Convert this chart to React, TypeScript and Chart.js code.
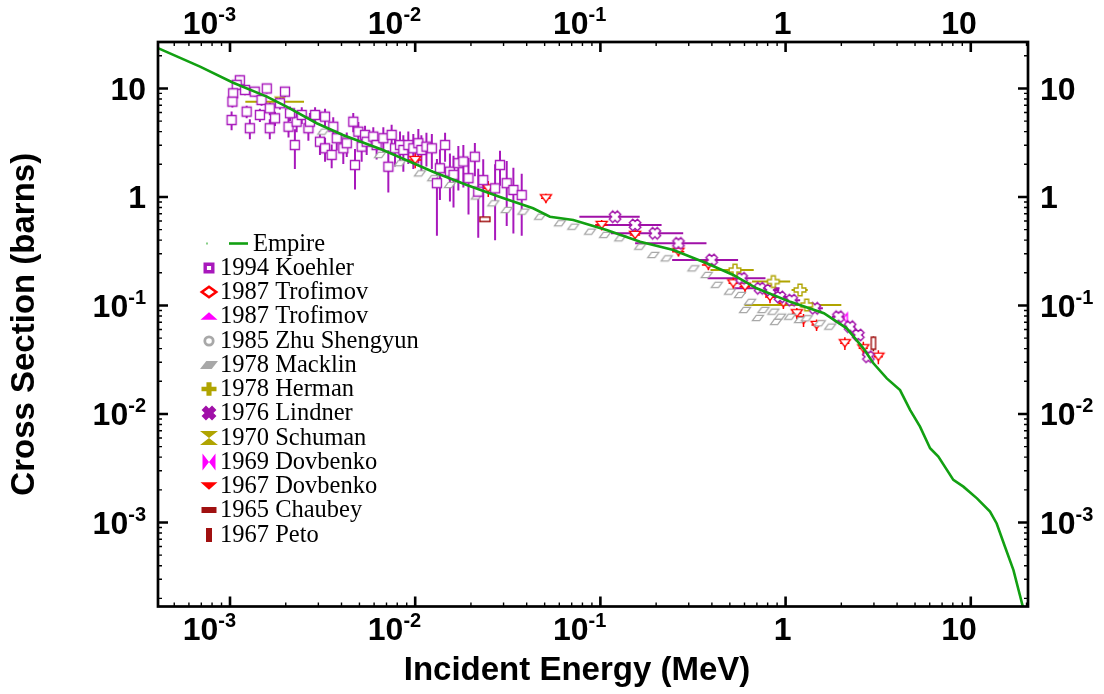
import React, { useEffect, useRef } from 'react';
import { Chart, registerables } from 'chart.js';

Chart.register(...registerables);

// ---------------- data ----------------
const X_MIN = 4.085e-4;
const X_MAX = 20.37;
const Y_MIN = 1.682e-4;
const Y_MAX = 26.8;

const xTickValues = [1e-3, 1e-2, 1e-1, 1, 10];
const xTickLabels = ['10^-3', '10^-2', '10^-1', '1', '10'];
const yTickValues = [1e-3, 1e-2, 1e-1, 1, 10];
const yTickLabels = ['10^-3', '10^-2', '10^-1', '1', '10'];

const xTitle = 'Incident Energy (MeV)';
const yTitle = 'Cross Section (barns)';

const legendLabels = [
  'Empire',
  '1994 Koehler',
  '1987 Trofimov',
  '1987 Trofimov',
  '1985 Zhu Shengyun',
  '1978 Macklin',
  '1978 Herman',
  '1976 Lindner',
  '1970 Schuman',
  '1969 Dovbenko',
  '1967 Dovbenko',
  '1965 Chaubey',
  '1967 Peto',
];

const empireE = [4.0e-4, 6.89e-4, 1.04e-3, 1.58e-3, 2.02e-3, 2.94e-3, 4.07e-3, 6.7e-3, 1.247e-2, 1.9e-2,
  2.87e-2, 4.33e-2, 5.34e-2, 7.14e-2, 0.108, 0.164, 0.248, 0.375, 0.522, 0.698,
  1.06, 1.61, 2.14, 2.63, 2.98, 3.52, 4.15, 4.7, 5.32, 6.03,
  6.68, 8.05, 9.12, 10.8, 12.7, 13.8, 15.3, 17.0, 19.1, 20.5];
const empireXS = [23.9, 15.9, 11.3, 8.4, 6.8, 4.78, 3.73, 2.71, 1.71, 1.29,
  1.0, 0.787, 0.658, 0.614, 0.497, 0.387, 0.325, 0.245, 0.191, 0.144,
  0.108, 0.0848, 0.0616, 0.0403, 0.0293, 0.0213, 0.0166, 0.0109, 0.00765, 0.00483,
  0.00405, 0.00247, 0.00214, 0.00167, 0.00126, 0.00098, 0.000597, 0.000364, 0.000168, 0.000128];

const koehlerE = [1.13e-3, 1.087e-3, 1.04e-3, 1.03e-3, 1.02e-3, 1.205e-3, 1.23e-3, 1.28e-3, 1.36e-3, 1.45e-3,
  1.48e-3, 1.58e-3, 1.64e-3, 1.64e-3, 1.75e-3, 1.86e-3, 1.98e-3, 2.07e-3, 2.24e-3, 2.29e-3,
  2.11e-3, 2.44e-3, 2.65e-3, 2.70e-3, 2.88e-3, 3.06e-3, 3.26e-3, 3.26e-3, 3.54e-3, 3.61e-3,
  3.77e-3, 4.09e-3, 4.27e-3, 4.63e-3, 4.73e-3, 4.93e-3, 5.14e-3, 5.36e-3, 5.47e-3, 5.94e-3,
  6.19e-3, 6.73e-3, 7.16e-3, 7.46e-3, 7.78e-3, 8.28e-3, 8.63e-3, 9.18e-3, 9.77e-3, 1.04e-2,
  1.08e-2, 1.15e-2, 1.23e-2, 1.31e-2, 1.36e-2, 1.45e-2, 1.54e-2, 1.61e-2, 1.71e-2, 1.82e-2,
  1.94e-2, 2.10e-2, 2.19e-2, 2.33e-2, 2.70e-2, 2.87e-2, 3.12e-2, 3.39e-2, 3.76e-2];
const koehlerXS = [11.9, 10.8, 9.03, 7.56, 5.12, 9.68, 6.11, 4.30, 9.34, 5.70,
  7.83, 10.0, 6.57, 4.30, 5.31, 7.31, 9.34, 4.44, 3.01, 4.94,
  5.91, 5.70, 4.30, 4.94, 5.70, 3.23, 5.50, 2.81, 2.44, 4.44,
  3.48, 2.81, 3.13, 4.94, 1.97, 4.00, 2.91, 3.73, 3.23, 3.60,
  3.01, 3.48, 1.90, 3.73, 2.81, 3.01, 2.71, 3.01, 2.81, 3.13,
  2.71, 2.91, 2.81, 1.34, 1.84, 3.01, 1.71, 1.60, 2.05, 2.12,
  1.49, 2.35, 1.12, 1.43, 1.20, 1.97, 1.34, 1.16, 1.04];
const koehlerErr = [1.2, 1.0, 1.1, 0.9, 1.0, 1.0, 0.8, 0.9, 0.9, 0.8,
  0.9, 1.0, 0.9, 0.9, 0.8, 0.9, 1.0, 0.9, 1.2, 1.0,
  0.9, 1.0, 1.0, 1.0, 1.0, 0.8, 1.0, 0.7, 0.6, 1.0,
  0.8, 0.8, 0.8, 1.0, 0.8, 0.9, 0.8, 0.8, 0.8, 0.8,
  0.8, 0.9, 0.8, 0.9, 0.9, 1.0, 1.0, 1.0, 1.0, 1.1,
  1.0, 1.0, 1.0, 0.9, 0.9, 0.9, 0.8, 0.8, 0.9, 0.9,
  0.8, 0.8, 0.7, 0.8, 0.8, 0.7, 0.8, 0.7, 0.6];

const trofimovAE: number[] = [];
const trofimovAXS: number[] = [];
const trofimovBE: number[] = [];
const trofimovBXS: number[] = [];
const zhuE: number[] = [];
const zhuXS: number[] = [];

const macklinE = [3.19e-3, 4.09e-3, 6.46e-3, 8.28e-3, 1.06e-2, 1.25e-2, 1.54e-2, 2.15e-2, 2.64e-2, 3.12e-2,
  3.84e-2, 4.72e-2, 6.05e-2, 7.14e-2, 8.79e-2, 0.106, 0.128, 0.164, 0.193, 0.228,
  0.318, 0.375, 0.425, 0.501, 0.567, 0.643, 0.759, 0.859, 0.933, 1.057,
  1.197, 1.30, 1.53, 1.74, 0.604, 0.709, 0.887];
const macklinXS = [4.0, 3.35, 2.44, 2.05, 1.65, 1.49, 1.29, 1.01, 0.875, 0.759,
  0.732, 0.658, 0.573, 0.532, 0.479, 0.447, 0.416, 0.348, 0.292, 0.272,
  0.220, 0.191, 0.155, 0.134, 0.125, 0.108, 0.0909, 0.0877, 0.0788, 0.0788,
  0.0735, 0.0762, 0.0686, 0.0638, 0.0909, 0.0767, 0.0706];

const hermanE = [0.533, 0.859, 1.197, 1.30];
const hermanXS = [0.212, 0.166, 0.139, 0.101];
const hermanErrE = [0.14, 0.2, 0.12, 0.7];

const lindnerE = [0.120, 0.154, 0.197, 0.264, 0.399, 0.579, 0.728, 0.824, 0.933, 1.079, 1.44, 1.93, 2.23, 2.47, 2.80];
const lindnerXS = [0.658, 0.552, 0.463, 0.374, 0.263, 0.178, 0.144, 0.139, 0.120, 0.112, 0.0942, 0.0788, 0.0638, 0.0535, 0.0337];
const lindnerErrE = [0.043, 0.06, 0.083, 0.11, 0.155, 0.2, 0.2, 0.1, 0.1, 0.12, 0.15, 0.15, 0.15, 0.15, 0.15];

const schumanE = [1.86e-3];
const schumanXS = [7.56];
const schumanErrE = [0.65e-3];

const dovb69E = [2.05];
const dovb69XS = [0.0762];

const dovb67E = [0.01, 0.0248, 0.0508, 0.1016, 0.154, 0.264, 0.383, 0.522, 0.604, 0.824, 0.973, 1.15, 1.25, 1.47, 2.09, 2.63, 3.17];
const dovb67XS = [2.19, 1.20, 0.973, 0.552, 0.447, 0.313, 0.236, 0.160, 0.149, 0.120, 0.105, 0.0848, 0.0735, 0.0661, 0.0449, 0.0403, 0.0337];
const dovb67Err = [0.35, 0.2, 0.1, 0.06, 0.05, 0.03, 0.025, 0.02, 0.02, 0.015, 0.012, 0.01, 0.01, 0.008, 0.006, 0.006, 0.005];
const dovb67ErrE = [0.0008, 0.002, 0.003, 0.008, 0.01, 0.02, 0.03, 0.03, 0.04, 0.05, 0.06, 0.07, 0.07, 0.09, 0.12, 0.15, 0.18];

const chaubeyE = [0.0238];
const chaubeyXS = [0.623];
const chaubeyErr = [0.03];

const petoE = [2.98];
const petoXS = [0.0449];
const petoErr = [0.007];

// ---------------- styles ----------------
const C_GREEN = '#12a012';
const C_PURPLE = '#a818bc';
const C_LINDNER = '#a010a8';
const C_RED = '#ff0000';
const C_MAGENTA = '#ff00ff';
const C_GRAY = '#a8a8a8';
const C_OLIVE = '#b0a400';
const C_DARKRED = '#a01010';

const SANS = '"Liberation Sans", Arial, Helvetica, sans-serif';
const SERIF = '"Liberation Serif", "Times New Roman", serif';
const TICK_FS = 32;
const SUP_FS = 20;
const SUP_RAISE = 13;
const TITLE_FS = 33;

type Shape = 'square' | 'diamond' | 'triUp' | 'circle' | 'para' | 'plus' | 'quatre' | 'hourglass' | 'bowtie' | 'triDown' | 'rect';

function shapePath(ctx: CanvasRenderingContext2D, shape: Shape, hw: number, hh: number) {
  const poly = (pts: number[][]) => {
    ctx.moveTo(pts[0][0], pts[0][1]);
    for (let i = 1; i < pts.length; i++) ctx.lineTo(pts[i][0], pts[i][1]);
    ctx.closePath();
  };
  switch (shape) {
    case 'square':
    case 'rect':
      ctx.rect(-hw, -hh, 2 * hw, 2 * hh);
      break;
    case 'diamond':
      poly([[0, -hh], [hw, 0], [0, hh], [-hw, 0]]);
      break;
    case 'triUp':
      poly([[0, -hh], [hw, hh], [-hw, hh]]);
      break;
    case 'triDown':
      poly([[-hw, -hh], [hw, -hh], [0, hh]]);
      break;
    case 'circle':
      ctx.arc(0, 0, hw, 0, Math.PI * 2);
      break;
    case 'para': {
      const s = hw * 0.7;
      poly([[-hw + s, -hh], [hw, -hh], [hw - s, hh], [-hw, hh]]);
      break;
    }
    case 'plus': {
      const a = hw * 0.34;
      const b = hh * 0.34;
      poly([[-a, -hh], [a, -hh], [a, -b], [hw, -b], [hw, b], [a, b], [a, hh], [-a, hh], [-a, b], [-hw, b], [-hw, -b], [-a, -b]]);
      break;
    }
    case 'quatre': {
      const h = hw;
      const a = h * 0.42;
      const base = [[-a, -h], [a, -h], [a, -a], [h, -a], [h, a], [a, a], [a, h], [-a, h], [-a, a], [-h, a], [-h, -a], [-a, -a]];
      const c = Math.cos(Math.PI / 4);
      const s = Math.sin(Math.PI / 4);
      const k = 0.95;
      poly(base.map(([x, y]) => [k * (x * c - y * s), k * (x * s + y * c)]));
      break;
    }
    case 'hourglass':
      poly([[-hw, -hh], [hw, -hh], [-hw, hh], [hw, hh]]);
      break;
    case 'bowtie':
      poly([[-hw, -hh], [-hw, hh], [hw, -hh], [hw, hh]]);
      break;
  }
}

function makeIcon(shape: Shape, color: string, hw: number, hh: number, lw: number, filled: boolean, whiteFill: boolean): HTMLCanvasElement {
  const pad = Math.ceil(lw) + 2;
  let w = Math.ceil(2 * hw + 2 * pad);
  let h = Math.ceil(2 * hh + 2 * pad);
  if (w % 2) w++;
  if (h % 2) h++;
  const c = document.createElement('canvas');
  c.width = w;
  c.height = h;
  const ctx = c.getContext('2d')!;
  ctx.translate(w / 2, h / 2);
  ctx.beginPath();
  shapePath(ctx, shape, hw, hh);
  if (filled) {
    ctx.fillStyle = color;
    ctx.fill();
  } else {
    if (whiteFill) {
      ctx.fillStyle = '#ffffff';
      ctx.fill();
    }
    ctx.strokeStyle = color;
    ctx.lineWidth = lw;
    ctx.lineJoin = 'miter';
    ctx.stroke();
  }
  return c;
}

function pts(xs: number[], ys: number[]) {
  return xs.map((x, i) => ({ x, y: ys[i] }));
}

function drawSupLabel(ctx: CanvasRenderingContext2D, label: string, x: number, y: number, align: 'left' | 'right') {
  const parts = label.split('^');
  const base = parts[0];
  const exp = parts[1];
  const fBase = `bold ${TICK_FS}px ${SANS}`;
  const fSup = `bold ${SUP_FS}px ${SANS}`;
  ctx.font = fBase;
  const wb = ctx.measureText(base).width;
  let we = 0;
  if (exp) {
    ctx.font = fSup;
    we = ctx.measureText(exp).width;
  }
  const x0 = align === 'right' ? x - wb - we : x;
  ctx.textAlign = 'left';
  ctx.textBaseline = 'alphabetic';
  ctx.fillStyle = '#000';
  ctx.font = fBase;
  ctx.fillText(base, x0, y);
  if (exp) {
    ctx.font = fSup;
    ctx.fillText(exp, x0 + wb, y - SUP_RAISE);
  }
}

const errorBarPlugin = {
  id: 'errorBars',
  beforeDatasetsDraw(chart: any) {
    const { ctx, chartArea, scales } = chart;
    const xs = scales.x;
    const ys = scales.y;
    ctx.save();
    ctx.beginPath();
    ctx.rect(chartArea.left, chartArea.top, chartArea.right - chartArea.left, chartArea.bottom - chartArea.top);
    ctx.clip();
    chart.data.datasets.forEach((ds: any) => {
      if (!ds.errY && !ds.errX) return;
      ctx.beginPath();
      ctx.strokeStyle = ds.errColor;
      ctx.lineWidth = ds.errWidth || 1.6;
      ds.data.forEach((p: any, i: number) => {
        const px = xs.getPixelForValue(p.x);
        const py = ys.getPixelForValue(p.y);
        if (ds.errY) {
          const e = ds.errY[i];
          const lo = Math.max(p.y - e, Y_MIN * 0.5);
          ctx.moveTo(px, ys.getPixelForValue(p.y + e));
          ctx.lineTo(px, ys.getPixelForValue(lo));
        }
        if (ds.errX) {
          const e = ds.errX[i];
          const lo = Math.max(p.x - e, X_MIN * 0.5);
          ctx.moveTo(xs.getPixelForValue(lo), py);
          ctx.lineTo(xs.getPixelForValue(p.x + e), py);
        }
      });
      ctx.stroke();
    });
    ctx.restore();
  },
};

const isDecade = (v: number) => Math.abs(Math.log10(v) - Math.round(Math.log10(v))) < 1e-9;

const framePlugin = {
  id: 'frameAndTicks',
  afterDraw(chart: any) {
    const { ctx, chartArea, scales } = chart;
    const { left, right, top, bottom } = chartArea;
    const xs = scales.x;
    const ys = scales.y;
    ctx.save();
    ctx.strokeStyle = '#000';
    // minor ticks
    ctx.lineWidth = 1.4;
    ctx.beginPath();
    for (let d = -5; d <= 2; d++) {
      for (let m = 2; m <= 9; m++) {
        const v = m * Math.pow(10, d);
        if (v > X_MIN && v < X_MAX) {
          const px = xs.getPixelForValue(v);
          ctx.moveTo(px, bottom);
          ctx.lineTo(px, bottom - 4);
          ctx.moveTo(px, top);
          ctx.lineTo(px, top + 4);
        }
        if (v > Y_MIN && v < Y_MAX) {
          const py = ys.getPixelForValue(v);
          ctx.moveTo(left, py);
          ctx.lineTo(left + 4, py);
          ctx.moveTo(right, py);
          ctx.lineTo(right - 4, py);
        }
      }
    }
    ctx.stroke();
    // major ticks
    ctx.lineWidth = 2.6;
    ctx.beginPath();
    xTickValues.forEach((v) => {
      if (!isDecade(v)) return;
      const px = xs.getPixelForValue(v);
      ctx.moveTo(px, bottom);
      ctx.lineTo(px, bottom - 10);
      ctx.moveTo(px, top);
      ctx.lineTo(px, top + 10);
    });
    yTickValues.forEach((v) => {
      const py = ys.getPixelForValue(v);
      ctx.moveTo(left, py);
      ctx.lineTo(left + 10, py);
      ctx.moveTo(right, py);
      ctx.lineTo(right - 10, py);
    });
    ctx.stroke();
    // frame
    ctx.lineWidth = 2.7;
    ctx.strokeRect(left, top, right - left, bottom - top);

    // tick labels
    xTickValues.forEach((v, i) => {
      const px = xs.getPixelForValue(v);
      drawSupLabel(ctx, xTickLabels[i], px + 6, bottom + 33, 'right');
      drawSupLabel(ctx, xTickLabels[i], px + 6, top - 8, 'right');
    });
    yTickValues.forEach((v, i) => {
      const py = ys.getPixelForValue(v);
      drawSupLabel(ctx, yTickLabels[i], left - 12, py + 11.5, 'right');
      drawSupLabel(ctx, yTickLabels[i], right + 12, py + 11.5, 'left');
    });

    // axis titles
    ctx.fillStyle = '#000';
    ctx.font = `bold ${TITLE_FS}px ${SANS}`;
    ctx.textAlign = 'center';
    ctx.textBaseline = 'alphabetic';
    ctx.fillText(xTitle, (left + right) / 2 - 16, 680);
    ctx.save();
    ctx.translate(34, (top + bottom) / 2);
    ctx.rotate(-Math.PI / 2);
    ctx.fillText(yTitle, 0, 0);
    ctx.restore();
    ctx.restore();
  },
};

export default function App() {
  const ref = useRef<HTMLCanvasElement>(null);

  useEffect(() => {
    const canvas = ref.current;
    if (!canvas) return;

    const legendIcons: (HTMLCanvasElement | null)[] = [
      null,
      makeIcon('square', C_PURPLE, 3.8, 3.8, 3.4, false, true),
      makeIcon('diamond', C_RED, 7.2, 5.2, 2.6, false, true),
      makeIcon('triUp', C_MAGENTA, 8.5, 3.8, 1, true, false),
      makeIcon('circle', C_GRAY, 4.2, 4.2, 2.8, false, true),
      makeIcon('para', C_GRAY, 9, 4, 1, true, false),
      makeIcon('plus', C_OLIVE, 7.5, 6.8, 1, true, false),
      makeIcon('quatre', C_LINDNER, 7.8, 7.8, 1, true, false),
      makeIcon('hourglass', C_OLIVE, 9, 7, 1, true, false),
      makeIcon('bowtie', C_MAGENTA, 6.5, 8.5, 1, true, false),
      makeIcon('triDown', C_RED, 8.5, 3.8, 1, true, false),
      makeIcon('rect', C_DARKRED, 7.5, 3, 1, true, false),
      makeIcon('rect', C_DARKRED, 3, 7, 1, true, false),
    ];

    const legendPlugin = {
      id: 'customLegend',
      afterDraw(chart: any) {
        const { ctx, chartArea } = chart;
        const x0 = chartArea.left;
        ctx.save();
        ctx.font = `24.5px ${SERIF}`;
        ctx.fillStyle = '#000';
        ctx.textAlign = 'left';
        ctx.textBaseline = 'alphabetic';
        legendLabels.forEach((lab, i) => {
          const base = 250.5 + i * 24.25;
          const cy = base - 7;
          if (i === 0) {
            ctx.fillStyle = C_GREEN;
            ctx.fillRect(x0 + 48.5, cy - 1, 1, 2);
            ctx.strokeStyle = C_GREEN;
            ctx.lineWidth = 2.6;
            ctx.beginPath();
            ctx.moveTo(x0 + 71, cy);
            ctx.lineTo(x0 + 90, cy);
            ctx.stroke();
            ctx.fillStyle = '#000';
            ctx.fillText(lab, x0 + 95, base);
          } else {
            const ic = legendIcons[i]!;
            ctx.drawImage(ic, Math.round(x0 + 51 - ic.width / 2), Math.round(cy - ic.height / 2));
            ctx.fillStyle = '#000';
            ctx.fillText(lab, x0 + 62, base);
          }
        });
        ctx.restore();
      },
    };

    const iKoehler = makeIcon('square', C_PURPLE, 4.5, 4.5, 1.4, false, true);
    const iTroA = makeIcon('diamond', C_RED, 5, 5, 1.4, false, false);
    const iTroB = makeIcon('triUp', C_MAGENTA, 5, 3.5, 1.4, false, false);
    const iZhu = makeIcon('circle', C_GRAY, 4, 4, 1.4, false, false);
    const iMacklin = makeIcon('para', C_GRAY, 5.5, 2.6, 1.3, false, true);
    const iHerman = makeIcon('plus', C_OLIVE, 5.8, 5.8, 1.4, false, true);
    const iLindner = makeIcon('quatre', C_LINDNER, 6, 6, 1.4, false, true);
    const iSchuman = makeIcon('hourglass', C_OLIVE, 4.5, 4.5, 1.4, false, false);
    const iDov69 = makeIcon('bowtie', C_MAGENTA, 4, 5, 1.4, false, false);
    const iDov67 = makeIcon('triDown', C_RED, 5.5, 3.6, 1.4, false, true);
    const iChaubey = makeIcon('rect', C_DARKRED, 5, 2.2, 1.4, false, true);
    const iPeto = makeIcon('rect', C_DARKRED, 2.2, 6, 1.4, false, true);

    const scatter = (label: string, data: any[], icon: HTMLCanvasElement, extra: any = {}) => ({
      label,
      data,
      pointStyle: icon,
      pointRadius: 5,
      pointHoverRadius: 5,
      showLine: false,
      ...extra,
    });

    const datasets: any[] = [
      {
        label: legendLabels[0],
        data: pts(empireE, empireXS),
        showLine: true,
        borderColor: C_GREEN,
        backgroundColor: C_GREEN,
        borderWidth: 2.6,
        pointRadius: 0,
        pointHoverRadius: 0,
        tension: 0,
      },
      scatter(legendLabels[1], pts(koehlerE, koehlerXS), iKoehler, { errY: koehlerErr, errColor: C_PURPLE, errWidth: 2 }),
      scatter(legendLabels[2], pts(trofimovAE, trofimovAXS), iTroA),
      scatter(legendLabels[3], pts(trofimovBE, trofimovBXS), iTroB),
      scatter(legendLabels[4], pts(zhuE, zhuXS), iZhu),
      scatter(legendLabels[5], pts(macklinE, macklinXS), iMacklin),
      scatter(legendLabels[6], pts(hermanE, hermanXS), iHerman, { errX: hermanErrE, errColor: C_OLIVE, errWidth: 2 }),
      scatter(legendLabels[7], pts(lindnerE, lindnerXS), iLindner, { errX: lindnerErrE, errColor: C_LINDNER, errWidth: 2 }),
      scatter(legendLabels[8], pts(schumanE, schumanXS), iSchuman, { errX: schumanErrE, errColor: C_OLIVE, errWidth: 2 }),
      scatter(legendLabels[9], pts(dovb69E, dovb69XS), iDov69),
      scatter(legendLabels[10], pts(dovb67E, dovb67XS), iDov67, { errY: dovb67Err, errX: dovb67ErrE, errColor: C_RED, errWidth: 1.5 }),
      scatter(legendLabels[11], pts(chaubeyE, chaubeyXS), iChaubey, { errY: chaubeyErr, errColor: C_DARKRED, errWidth: 1.5 }),
      scatter(legendLabels[12], pts(petoE, petoXS), iPeto, { errY: petoErr, errColor: C_DARKRED, errWidth: 1.5 }),
    ];

    const hiddenAxis = (pos: string, axis: string, min: number, max: number, fit: (s: any) => void) => ({
      type: 'logarithmic',
      axis,
      position: pos,
      min,
      max,
      bounds: 'data',
      ticks: { display: false },
      grid: { display: false, drawTicks: false },
      border: { display: false },
      title: { display: false },
      afterFit: fit,
    });

    const chart = new Chart(canvas, {
      type: 'scatter',
      data: { datasets },
      options: {
        responsive: false,
        animation: false,
        events: [],
        devicePixelRatio: 1,
        layout: { padding: 0 },
        plugins: {
          legend: { display: false },
          tooltip: { enabled: false },
          title: { display: false },
        },
        scales: {
          x: hiddenAxis('bottom', 'x', X_MIN, X_MAX, (s: any) => { s.height = 87.5; }),
          x2: hiddenAxis('top', 'x', X_MIN, X_MAX, (s: any) => { s.height = 42; }),
          y: hiddenAxis('left', 'y', Y_MIN, Y_MAX, (s: any) => { s.width = 158; }),
          y2: hiddenAxis('right', 'y', Y_MIN, Y_MAX, (s: any) => { s.width = 76; }),
        },
      } as any,
      plugins: [errorBarPlugin, framePlugin, legendPlugin],
    } as any);

    return () => {
      chart.destroy();
    };
  }, []);

  return (
    <div style={{ position: 'absolute', left: 0, top: 0, width: 1104, height: 694, background: '#ffffff' }}>
      <canvas ref={ref} width={1104} height={694} style={{ display: 'block', width: 1104, height: 694 }} />
    </div>
  );
}
